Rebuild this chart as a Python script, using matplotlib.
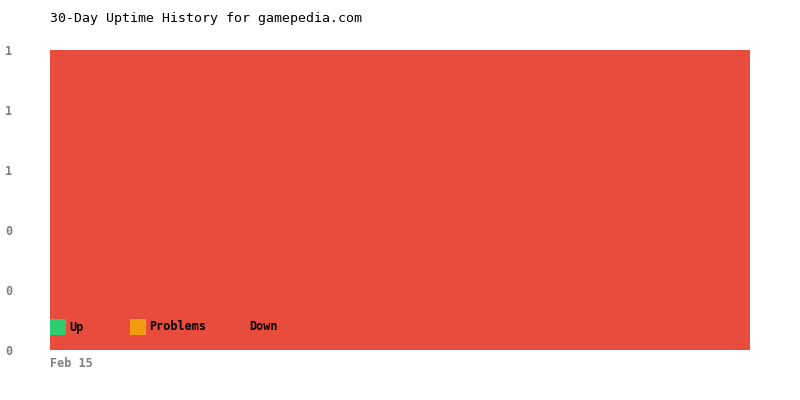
import matplotlib
matplotlib.use('Agg')
import matplotlib.pyplot as plt
from matplotlib.patches import Rectangle

# 30 days of uptime status (fraction of each day)
days = list(range(30))
up = [0, 0, 0, 0, 0, 0, 0, 0, 0, 0, 0, 0, 0, 0, 0, 0, 0, 0, 0, 0, 0, 0, 0, 0, 0, 0, 0, 0, 0, 0]
problems = [0, 0, 0, 0, 0, 0, 0, 0, 0, 0, 0, 0, 0, 0, 0, 0, 0, 0, 0, 0, 0, 0, 0, 0, 0, 0, 0, 0, 0, 0]
down = [1, 1, 1, 1, 1, 1, 1, 1, 1, 1, 1, 1, 1, 1, 1, 1, 1, 1, 1, 1, 1, 1, 1, 1, 1, 1, 1, 1, 1, 1]
series_names = ['Up', 'Problems', 'Down']
colors = ['#2ecc71', '#f39c12', '#e74c3c']
x_tick_labels = ['Feb 15']
y_ticks = [0, 0.2, 0.4, 0.6, 0.8, 1.0]

mono = 'DejaVu Sans Mono'
tick_grey = '#808080'

fig = plt.figure(figsize=(8, 4), dpi=100)
ax = fig.add_axes([0.0625, 0.125, 0.875, 0.75])

ax.stackplot(days, up, problems, down, colors=colors, linewidth=0)
ax.set_xlim(days[0], days[-1])
ax.set_ylim(0, 1)

ax.set_yticks(y_ticks)
ax.set_yticklabels([f'{v:.0f}' for v in y_ticks], family=mono, fontsize=8.5,
                   fontweight='bold', color=tick_grey)
ax.set_xticks([days[0]])
ax.set_xticklabels(x_tick_labels, family=mono, fontsize=8.5,
                   fontweight='bold', color=tick_grey, ha='left')
ax.tick_params(axis='y', length=0, pad=27)
ax.tick_params(axis='x', length=0, pad=5)
for s in ax.spines.values():
    s.set_visible(False)

# legend drawn by hand in pixel-like axes coords
leg_x = [0.0, 80 / 700, 180 / 700]
sq_w = 16 / 700
sq_h = 16 / 300
for i in range(3):
    ax.add_patch(Rectangle((leg_x[i], 15 / 300), sq_w, sq_h, transform=ax.transAxes,
                           facecolor=colors[i], edgecolor='none', zorder=3))
    ax.text(leg_x[i] + 19 / 700, 23 / 300, series_names[i], transform=ax.transAxes,
            family=mono, fontsize=8.5, fontweight='bold', color='black',
            va='center', ha='left', zorder=4)

fig.text(0.0625, 1 - 18.5 / 400, '30-Day Uptime History for gamepedia.com',
         family=mono, fontsize=9.5, color='black', va='center', ha='left')

fig.savefig('out.png', dpi=100)
